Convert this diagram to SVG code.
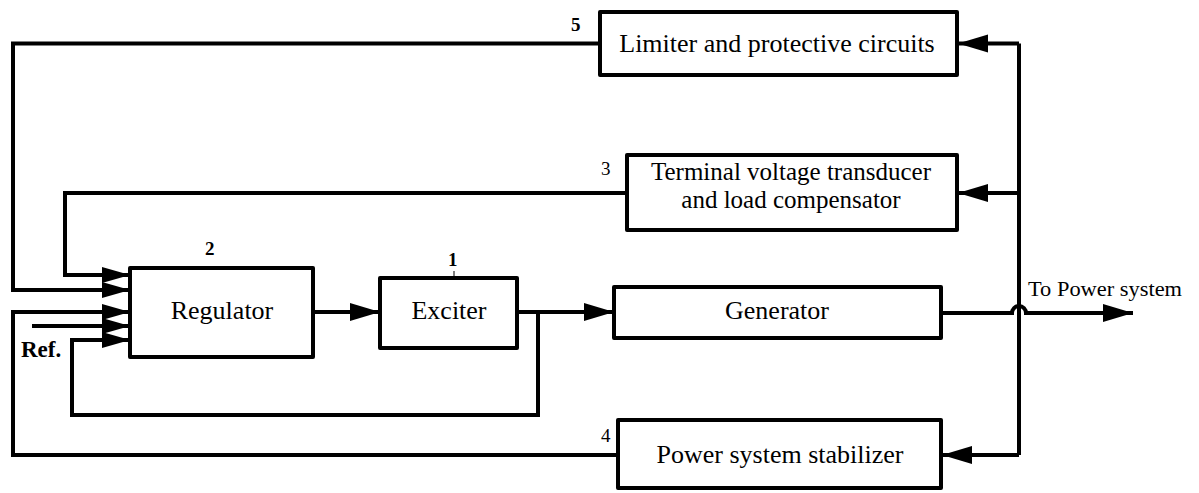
<svg xmlns="http://www.w3.org/2000/svg" width="1199" height="493" viewBox="0 0 1199 493">
<defs>
<style>
.box{fill:#fff;stroke:#000;stroke-width:4;stroke-linejoin:round}
.ln{fill:none;stroke:#000;stroke-width:4;stroke-linejoin:miter}
.t{font-family:"Liberation Serif","Times New Roman",serif;font-size:26px;fill:#000;text-anchor:middle}
.n{font-family:"Liberation Serif","Times New Roman",serif;font-size:19px;fill:#000}
.b{font-weight:bold}
</style>
<marker id="ah" markerUnits="userSpaceOnUse" markerWidth="31" markerHeight="19" refX="30" refY="9" orient="auto">
<path d="M0,0 L30,9 L0,18 z" fill="#000"/>
</marker>
<marker id="ahs" markerUnits="userSpaceOnUse" markerWidth="29" markerHeight="17" refX="28" refY="8" orient="auto">
<path d="M0,0 L28,8 L0,16 z" fill="#000"/>
</marker>
</defs>
<rect width="1199" height="493" fill="#fff"/>
<g id="connectors">
<path class="ln" d="M600,43.5 H13 V290 H130" marker-end="url(#ahs)"/>
<path class="ln" d="M627,193 H65 V275 H130" marker-end="url(#ahs)"/>
<path class="ln" d="M618,455 H13 V312 H130" marker-end="url(#ahs)"/>
<path class="ln" d="M32,326 H130" marker-end="url(#ahs)"/>
<path class="ln" d="M538,312 V415 H72 V340 H130" marker-end="url(#ahs)"/>
<path class="ln" d="M313,312 H380" marker-end="url(#ah)"/>
<path class="ln" d="M517,312 H614" marker-end="url(#ah)"/>
<path class="ln" d="M941,313 H1012 A7,7 0 0 1 1026,313 H1133" marker-end="url(#ah)"/>
<path class="ln" d="M1019,43.5 V455"/>
<path class="ln" d="M1019,43.5 H958" marker-end="url(#ah)"/>
<path class="ln" d="M1019,193 H958" marker-end="url(#ah)"/>
<path class="ln" d="M1019,455 H942" marker-end="url(#ah)"/>
<line x1="454" y1="271" x2="454" y2="278" stroke="#000" stroke-width="1"/>
</g>
<g id="limiter">
<rect class="box" x="600" y="12" width="357" height="63"/>
<text class="t" x="777" y="52">Limiter and protective circuits</text>
<text class="n b" x="571" y="31">5</text>
</g>
<g id="terminal">
<rect class="box" x="627" y="155" width="330" height="75"/>
<text class="t" x="791" y="180" style="font-size:25px">Terminal voltage transducer</text>
<text class="t" x="791" y="208" style="font-size:25px">and load compensator</text>
<text class="n" x="601" y="175">3</text>
</g>
<g id="regulator">
<rect class="box" x="130" y="268" width="183" height="89"/>
<text class="t" x="222" y="319">Regulator</text>
<text class="n b" x="205" y="255">2</text>
</g>
<g id="exciter">
<rect class="box" x="380" y="278" width="137" height="70"/>
<text class="t" x="449" y="319">Exciter</text>
<text class="n b" x="448" y="266">1</text>
</g>
<g id="generator">
<rect class="box" x="614" y="287" width="327" height="51"/>
<text class="t" x="777" y="319">Generator</text>
</g>
<g id="pss">
<rect class="box" x="618" y="420" width="323" height="68"/>
<text class="t" x="780" y="463">Power system stabilizer</text>
<text class="n" x="601" y="442">4</text>
</g>
<g id="ref">
<text class="n b" x="21" y="357" style="font-size:23px">Ref.</text>
</g>
<g id="output">
<text class="n" x="1028" y="296" style="font-size:20px" textLength="154" lengthAdjust="spacingAndGlyphs">To Power system</text>
</g>
</svg>
